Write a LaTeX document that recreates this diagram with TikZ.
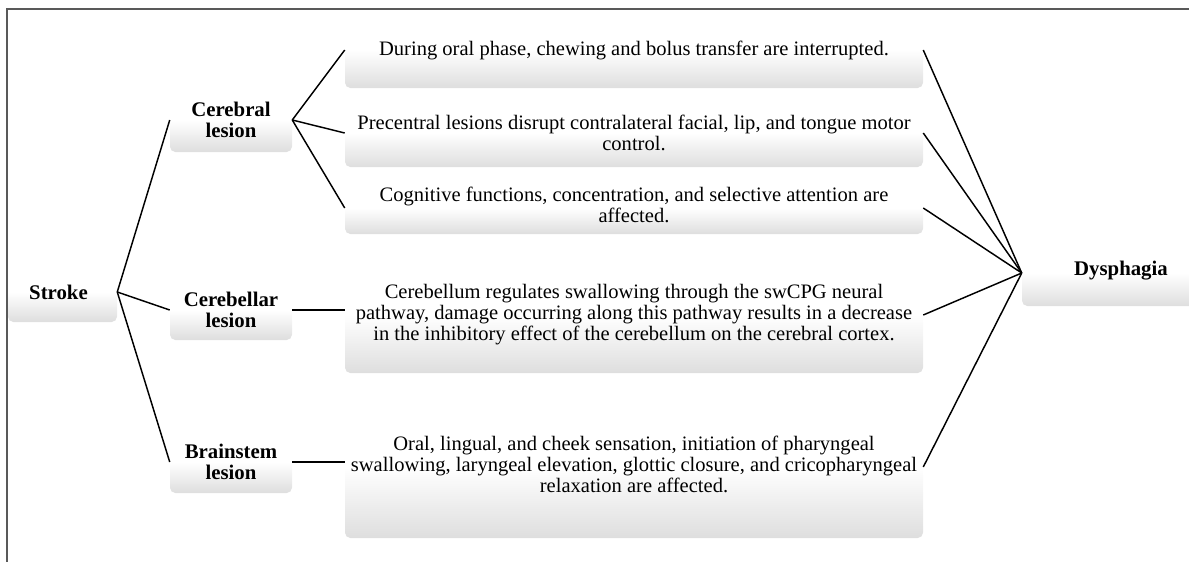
\documentclass[tikz,border=0pt]{standalone}
\usepackage{fontspec}
\setmainfont{Liberation Serif}
\tikzset{
  box/.style={rectangle, rounded corners=4pt, inner sep=0pt, shading angle=0,
    top color=white, bottom color=black!13, middle color=white,
    align=center, font=\fontsize{15.4}{15.8}\selectfont},
  lbox/.style={box, font=\fontsize{15.6}{15.5}\selectfont\bfseries},
  conn/.style={line width=1.1pt, black},
  frameline/.style={line width=1.1pt, black!65}
}
\begin{document}
\begin{tikzpicture}[x=0.75pt, y=-0.75pt]
\useasboundingbox (0,0) rectangle (1189,561);
\clip (0,0) rectangle (1189,561);
\draw[frameline] (7,565) -- (7,9) -- (1195,9);

\node[lbox, minimum width=81.75pt, minimum height=45pt] (stroke) at (62.5,292) {\hspace*{-6pt}Stroke};
\node[lbox, minimum width=91.5pt, minimum height=48pt] (cerebral) at (231,120) {Cerebral\\lesion};
\node[lbox, minimum width=91.5pt, minimum height=45pt] (cerebellar) at (231,310) {Cerebellar\\lesion};
\node[lbox, minimum width=91.5pt, minimum height=46.5pt] (brainstem) at (231,462) {Brainstem\\lesion};

\node[box, minimum width=433.5pt, minimum height=57pt] (b1) at (634,50) {\raisebox{1.5pt}{During oral phase, chewing and bolus transfer are interrupted.}};
\node[box, minimum width=433.5pt, minimum height=51pt] (b2) at (634,133) {Precentral lesions disrupt contralateral facial, lip, and tongue motor\\control.};
\node[box, minimum width=433.5pt, minimum height=39pt] (b3) at (634,208) {\raisebox{2pt}{\begin{tabular}{@{}c@{}}Cognitive functions, concentration, and selective attention are\\affected.\end{tabular}}};
\node[box, minimum width=433.5pt, minimum height=87pt] (b4) at (634,315) {\raisebox{4pt}{\begin{tabular}{@{}c@{}}Cerebellum regulates swallowing through the swCPG neural\\pathway, damage occurring along this pathway results in a decrease\\in the inhibitory effect of the cerebellum on the cerebral cortex.\end{tabular}}};
\node[box, minimum width=433.5pt, minimum height=106.5pt] (b5) at (634,467) {\raisebox{3pt}{\begin{tabular}{@{}c@{}}Oral, lingual, and cheek sensation, initiation of pharyngeal\\swallowing, laryngeal elevation, glottic closure, and cricopharyngeal\\relaxation are affected.\end{tabular}}};
\node[lbox, minimum width=148.5pt, minimum height=49.5pt] (dys) at (1121,273) {\raisebox{7.5pt}{Dysphagia}};

\draw[conn] (stroke.east) -- (cerebral.west);
\draw[conn] (stroke.east) -- (cerebellar.west);
\draw[conn] (stroke.east) -- (brainstem.west);
\draw[conn] (cerebral.east) -- (b1.west);
\draw[conn] (cerebral.east) -- (b2.west);
\draw[conn] (cerebral.east) -- (b3.west);
\draw[conn] (cerebellar.east) -- (cerebellar.east -| b4.west);
\draw[conn] (brainstem.east) -- (brainstem.east -| b5.west);
\draw[conn] (b1.east) -- (dys.west);
\draw[conn] (b2.east) -- (dys.west);
\draw[conn] (b3.east) -- (dys.west);
\draw[conn] (b4.east) -- (dys.west);
\draw[conn] (b5.east) -- (dys.west);
\end{tikzpicture}
\end{document}
